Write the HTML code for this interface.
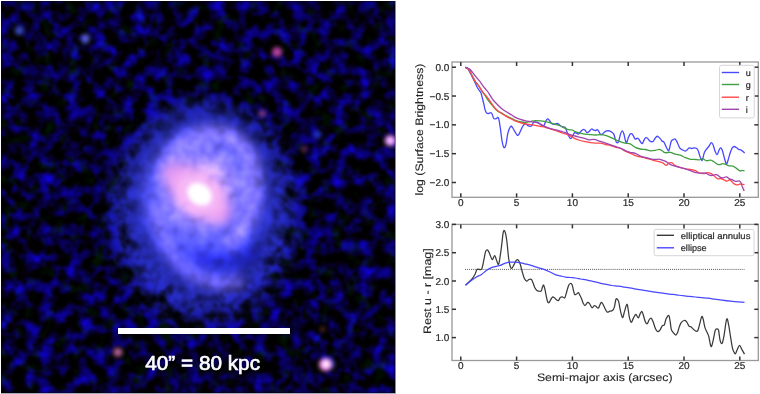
<!DOCTYPE html>
<html><head><meta charset="utf-8"><style>
html,body{margin:0;padding:0;background:#fff;width:760px;height:394px;overflow:hidden;}
body{position:relative;font-family:"Liberation Sans", sans-serif;}
#gal{position:absolute;left:1px;top:1px;width:394px;height:392px;overflow:hidden;background:#000;}
#plots{position:absolute;left:0;top:0;will-change:transform;text-rendering:geometricPrecision;}
.tl{font-family:"Liberation Sans", sans-serif;font-size:10px;fill:#2a2a2a;stroke:#2a2a2a;stroke-width:0.22px;}
.al{font-family:"Liberation Sans", sans-serif;font-size:10.8px;fill:#262626;stroke:#262626;stroke-width:0.12px;}
.lg{font-family:"Liberation Sans", sans-serif;font-size:9px;fill:#2a2a2a;stroke:#2a2a2a;stroke-width:0.22px;}
</style></head><body>
<div id="gal"><svg width="394" height="392" viewBox="1 1 394 392" style="display:block">
<defs>
<filter id="noise" x="1" y="1" width="394" height="392" filterUnits="userSpaceOnUse" color-interpolation-filters="sRGB">
  <feTurbulence type="fractalNoise" baseFrequency="0.075" numOctaves="3" seed="7" result="t"/>
  <feColorMatrix in="t" type="matrix" values="0.1 0 0 0 -0.03  0 0.3 0 0 -0.17  1.9 0 0 0 -0.79  0 0 0 0 1"/>
  <feGaussianBlur stdDeviation="0.9"/>
</filter>
<filter id="mottle" filterUnits="userSpaceOnUse" x="1" y="1" width="394" height="392" color-interpolation-filters="sRGB">
  <feGaussianBlur in="SourceGraphic" stdDeviation="5.5" result="s"/>
  <feTurbulence type="fractalNoise" baseFrequency="0.08" numOctaves="2" seed="4" result="t"/>
  <feColorMatrix in="t" type="matrix" values="1 0 0 0 0  1 0 0 0 0  1 0 0 0 0  0 0 0 0 1" result="n0"/>
  <feGaussianBlur in="n0" stdDeviation="1.2" result="n"/>
  <feComposite in="s" in2="n" operator="arithmetic" k1="0.75" k2="0.72" k3="0" k4="0"/>
</filter>
<filter id="mottleH" filterUnits="userSpaceOnUse" x="1" y="1" width="394" height="392" color-interpolation-filters="sRGB">
  <feGaussianBlur in="SourceGraphic" stdDeviation="3" result="s"/>
  <feTurbulence type="fractalNoise" baseFrequency="0.075" numOctaves="3" seed="7" result="t"/>
  <feColorMatrix in="t" type="matrix" values="0 0 0 0 0  0 0 0 0 0  0 0 0 0 0  2.6 0 0 0 -0.65" result="m0"/>
  <feGaussianBlur in="m0" stdDeviation="0.9" result="m"/>
  <feComposite in="s" in2="m" operator="in"/>
</filter>
<filter id="b3" x="-60%" y="-60%" width="220%" height="220%" color-interpolation-filters="sRGB"><feGaussianBlur stdDeviation="3"/></filter>
<filter id="b2" color-interpolation-filters="sRGB"><feGaussianBlur stdDeviation="2"/></filter>
<filter id="b4" x="-60%" y="-60%" width="220%" height="220%" color-interpolation-filters="sRGB"><feGaussianBlur stdDeviation="4"/></filter>
<filter id="b6" x="-60%" y="-60%" width="220%" height="220%" color-interpolation-filters="sRGB"><feGaussianBlur stdDeviation="6"/></filter>
<filter id="b10" x="-60%" y="-60%" width="220%" height="220%" color-interpolation-filters="sRGB"><feGaussianBlur stdDeviation="10"/></filter>
<filter id="b15" x="-60%" y="-60%" width="220%" height="220%" color-interpolation-filters="sRGB"><feGaussianBlur stdDeviation="15"/></filter>
<radialGradient id="gHalo" cx="0.5" cy="0.5" r="0.5">
  <stop offset="0" stop-color="#5a60ff" stop-opacity="1"/>
  <stop offset="0.45" stop-color="#4a54ff" stop-opacity="1"/>
  <stop offset="0.72" stop-color="#3a44ff" stop-opacity="0.7"/>
  <stop offset="0.88" stop-color="#2a34e0" stop-opacity="0.3"/>
  <stop offset="1" stop-color="#1820c0" stop-opacity="0"/>
</radialGradient>
<radialGradient id="gMid" cx="0.5" cy="0.5" r="0.5">
  <stop offset="0" stop-color="#4a50ff" stop-opacity="1"/>
  <stop offset="0.6" stop-color="#3c46ff" stop-opacity="0.92"/>
  <stop offset="0.85" stop-color="#3038f0" stop-opacity="0.45"/>
  <stop offset="1" stop-color="#2028d8" stop-opacity="0"/>
</radialGradient>
<radialGradient id="gDisk" cx="0.5" cy="0.5" r="0.5">
  <stop offset="0" stop-color="#9080ff" stop-opacity="1"/>
  <stop offset="0.5" stop-color="#5c5cff" stop-opacity="0.85"/>
  <stop offset="1" stop-color="#4a50ff" stop-opacity="0"/>
</radialGradient>
<radialGradient id="gInner" cx="0.5" cy="0.5" r="0.5">
  <stop offset="0" stop-color="#f0b0ff" stop-opacity="1"/>
  <stop offset="0.3" stop-color="#c49cff" stop-opacity="0.95"/>
  <stop offset="0.6" stop-color="#9484ff" stop-opacity="0.5"/>
  <stop offset="1" stop-color="#7068ff" stop-opacity="0"/>
</radialGradient>
<radialGradient id="halo" cx="0.5" cy="0.5" r="0.5">
  <stop offset="0" stop-color="#5a50ff" stop-opacity="0.9"/>
  <stop offset="0.55" stop-color="#3030e0" stop-opacity="0.6"/>
  <stop offset="1" stop-color="#1010a0" stop-opacity="0"/>
</radialGradient>
<radialGradient id="disk" cx="0.5" cy="0.5" r="0.5">
  <stop offset="0" stop-color="#f0b0f0" stop-opacity="1"/>
  <stop offset="0.4" stop-color="#c890f0" stop-opacity="0.9"/>
  <stop offset="1" stop-color="#7060ff" stop-opacity="0"/>
</radialGradient>
<radialGradient id="core" cx="0.5" cy="0.5" r="0.5">
  <stop offset="0" stop-color="#ffffff" stop-opacity="1"/>
  <stop offset="0.35" stop-color="#fff4ff" stop-opacity="1"/>
  <stop offset="0.7" stop-color="#ffc8f4" stop-opacity="0.6"/>
  <stop offset="1" stop-color="#f0a0f0" stop-opacity="0"/>
</radialGradient>
<radialGradient id="star" cx="0.5" cy="0.5" r="0.5">
  <stop offset="0" stop-color="#fff0f8"/>
  <stop offset="0.5" stop-color="#ff90c0" stop-opacity="0.8"/>
  <stop offset="1" stop-color="#c04080" stop-opacity="0"/>
</radialGradient>
<radialGradient id="rstar" cx="0.5" cy="0.5" r="0.5">
  <stop offset="0" stop-color="#e05070"/>
  <stop offset="1" stop-color="#a03050" stop-opacity="0"/>
</radialGradient>
</defs>
<rect x="1" y="1" width="394" height="392" fill="#000"/>
<rect x="1" y="1" width="394" height="392" filter="url(#noise)"/>
<!-- halo -->
<g filter="url(#mottleH)">
<ellipse cx="204" cy="212" rx="108" ry="128" fill="url(#gHalo)"/>
</g>
<g filter="url(#mottle)">
<ellipse cx="204" cy="204" rx="86" ry="106" fill="url(#gMid)"/>
<ellipse cx="203" cy="188" rx="58" ry="64" fill="url(#gDisk)"/>
<g fill="none" stroke-linecap="round">
  <path d="M166,178 C164,150 190,133 217,133 C242,136 254,157 255,183 C256,208 249,228 230,243" stroke="#8878ff" stroke-width="14" stroke-opacity="0.95"/>
  <path d="M155,208 C158,240 176,268 204,279 C218,284 230,284 238,282" stroke="#8070ff" stroke-width="12" stroke-opacity="0.8"/>
</g>
<ellipse cx="201" cy="190" rx="66" ry="70" transform="rotate(35 201 190)" fill="url(#gInner)"/>
<path d="M194,256 C213,264 238,264 258,250" stroke="#1010a0" stroke-width="11" fill="none" opacity="0.65"/>
</g>
<!-- pink -->
<ellipse cx="197" cy="193" rx="42" ry="18" transform="rotate(40 197 193)" fill="#f4a0f0" opacity="0.85" filter="url(#b6)"/>
<ellipse cx="199" cy="194" rx="24" ry="18" transform="rotate(40 199 194)" fill="#f8c0f8" opacity="0.8" filter="url(#b4)"/>
<!-- core -->
<ellipse cx="199.5" cy="194.2" rx="13" ry="10.5" transform="rotate(35 199.5 194.2)" fill="#fff" filter="url(#b2)"/>
<!-- stars -->
<g filter="url(#b2)">
<circle cx="329" cy="364" r="6" fill="#4060ff" opacity="0.6"/>
<circle cx="325.6" cy="364.5" r="6.5" fill="#ff90f4"/>
<circle cx="326" cy="364" r="3.5" fill="#fff0ff"/>
<circle cx="390.2" cy="140.6" r="5.5" fill="#e890ff"/>
<circle cx="390.5" cy="140.4" r="2.5" fill="#ffd8ff"/>
<circle cx="277.1" cy="52.1" r="5" fill="#c84aa8" opacity="0.9"/>
<circle cx="262.3" cy="113.4" r="3.5" fill="#b05060" opacity="0.7"/>
<circle cx="117.8" cy="352.3" r="4.5" fill="#d070b0" opacity="0.85"/>
<circle cx="304.2" cy="149.1" r="3" fill="#a04060" opacity="0.6"/>
<circle cx="317.2" cy="134.5" r="4" fill="#3050ff" opacity="0.6"/>
<circle cx="322.5" cy="329.2" r="2.5" fill="#a05040" opacity="0.6"/>
<circle cx="19.3" cy="30.5" r="4.5" fill="#4a60ff" opacity="0.75"/>
<circle cx="85.4" cy="38.6" r="4.5" fill="#6a70ff" opacity="0.8"/>
</g>
<!-- scale bar -->
<rect x="118" y="328" width="172" height="6" fill="#fff"/>
<text x="145.3" y="370" font-family="Liberation Sans, sans-serif" font-size="19.5" fill="#fff" stroke="#fff" stroke-width="0.6" textLength="114.7" lengthAdjust="spacingAndGlyphs">40” = 80 kpc</text>
</svg>
</div>
<svg id="plots" width="760" height="394" viewBox="0 0 760 394">
<rect x="395" y="1" width="1" height="392" fill="#000" fill-opacity="0.45"/>
<rect x="1" y="393" width="395" height="1" fill="#a8a8bc"/>
<rect x="452" y="62" width="306.29999999999995" height="135.3" fill="none" stroke="#999" stroke-width="1.3"/>
<line x1="452" y1="67.2" x2="456" y2="67.2" stroke="#333" stroke-width="1.5"/><line x1="758.3" y1="67.2" x2="754.3" y2="67.2" stroke="#333" stroke-width="1.5"/><line x1="452" y1="96.025" x2="456" y2="96.025" stroke="#333" stroke-width="1.5"/><line x1="758.3" y1="96.025" x2="754.3" y2="96.025" stroke="#333" stroke-width="1.5"/><line x1="452" y1="124.85" x2="456" y2="124.85" stroke="#333" stroke-width="1.5"/><line x1="758.3" y1="124.85" x2="754.3" y2="124.85" stroke="#333" stroke-width="1.5"/><line x1="452" y1="153.675" x2="456" y2="153.675" stroke="#333" stroke-width="1.5"/><line x1="758.3" y1="153.675" x2="754.3" y2="153.675" stroke="#333" stroke-width="1.5"/><line x1="452" y1="182.5" x2="456" y2="182.5" stroke="#333" stroke-width="1.5"/><line x1="758.3" y1="182.5" x2="754.3" y2="182.5" stroke="#333" stroke-width="1.5"/><line x1="460.8" y1="197.3" x2="460.8" y2="193.3" stroke="#333" stroke-width="1.5"/><line x1="460.8" y1="62" x2="460.8" y2="66" stroke="#333" stroke-width="1.5"/><line x1="516.6" y1="197.3" x2="516.6" y2="193.3" stroke="#333" stroke-width="1.5"/><line x1="516.6" y1="62" x2="516.6" y2="66" stroke="#333" stroke-width="1.5"/><line x1="572.4" y1="197.3" x2="572.4" y2="193.3" stroke="#333" stroke-width="1.5"/><line x1="572.4" y1="62" x2="572.4" y2="66" stroke="#333" stroke-width="1.5"/><line x1="628.2" y1="197.3" x2="628.2" y2="193.3" stroke="#333" stroke-width="1.5"/><line x1="628.2" y1="62" x2="628.2" y2="66" stroke="#333" stroke-width="1.5"/><line x1="684.0" y1="197.3" x2="684.0" y2="193.3" stroke="#333" stroke-width="1.5"/><line x1="684.0" y1="62" x2="684.0" y2="66" stroke="#333" stroke-width="1.5"/><line x1="739.8" y1="197.3" x2="739.8" y2="193.3" stroke="#333" stroke-width="1.5"/><line x1="739.8" y1="62" x2="739.8" y2="66" stroke="#333" stroke-width="1.5"/>

<rect x="452" y="224.4" width="306.29999999999995" height="136.1" fill="none" stroke="#999" stroke-width="1.3"/>
<line x1="452" y1="224.4" x2="456" y2="224.4" stroke="#333" stroke-width="1.5"/><line x1="758.3" y1="224.4" x2="754.3" y2="224.4" stroke="#333" stroke-width="1.5"/><line x1="452" y1="252.70000000000002" x2="456" y2="252.70000000000002" stroke="#333" stroke-width="1.5"/><line x1="758.3" y1="252.70000000000002" x2="754.3" y2="252.70000000000002" stroke="#333" stroke-width="1.5"/><line x1="452" y1="281.0" x2="456" y2="281.0" stroke="#333" stroke-width="1.5"/><line x1="758.3" y1="281.0" x2="754.3" y2="281.0" stroke="#333" stroke-width="1.5"/><line x1="452" y1="309.3" x2="456" y2="309.3" stroke="#333" stroke-width="1.5"/><line x1="758.3" y1="309.3" x2="754.3" y2="309.3" stroke="#333" stroke-width="1.5"/><line x1="452" y1="337.6" x2="456" y2="337.6" stroke="#333" stroke-width="1.5"/><line x1="758.3" y1="337.6" x2="754.3" y2="337.6" stroke="#333" stroke-width="1.5"/><line x1="460.8" y1="360.5" x2="460.8" y2="356.5" stroke="#333" stroke-width="1.5"/><line x1="460.8" y1="224.4" x2="460.8" y2="228.4" stroke="#333" stroke-width="1.5"/><line x1="516.6" y1="360.5" x2="516.6" y2="356.5" stroke="#333" stroke-width="1.5"/><line x1="516.6" y1="224.4" x2="516.6" y2="228.4" stroke="#333" stroke-width="1.5"/><line x1="572.4" y1="360.5" x2="572.4" y2="356.5" stroke="#333" stroke-width="1.5"/><line x1="572.4" y1="224.4" x2="572.4" y2="228.4" stroke="#333" stroke-width="1.5"/><line x1="628.2" y1="360.5" x2="628.2" y2="356.5" stroke="#333" stroke-width="1.5"/><line x1="628.2" y1="224.4" x2="628.2" y2="228.4" stroke="#333" stroke-width="1.5"/><line x1="684.0" y1="360.5" x2="684.0" y2="356.5" stroke="#333" stroke-width="1.5"/><line x1="684.0" y1="224.4" x2="684.0" y2="228.4" stroke="#333" stroke-width="1.5"/><line x1="739.8" y1="360.5" x2="739.8" y2="356.5" stroke="#333" stroke-width="1.5"/><line x1="739.8" y1="224.4" x2="739.8" y2="228.4" stroke="#333" stroke-width="1.5"/>

<text x="449.3" y="70.8" text-anchor="end" class="tl">0.0</text>
<text x="449.3" y="99.6" text-anchor="end" class="tl">−0.5</text>
<text x="449.3" y="128.4" text-anchor="end" class="tl">−1.0</text>
<text x="449.3" y="157.3" text-anchor="end" class="tl">−1.5</text>
<text x="449.3" y="186.1" text-anchor="end" class="tl">−2.0</text>
<text x="449.3" y="228.0" text-anchor="end" class="tl">3.0</text>
<text x="449.3" y="256.3" text-anchor="end" class="tl">2.5</text>
<text x="449.3" y="284.6" text-anchor="end" class="tl">2.0</text>
<text x="449.3" y="312.9" text-anchor="end" class="tl">1.5</text>
<text x="449.3" y="341.2" text-anchor="end" class="tl">1.0</text>
<text x="460.8" y="206.2" text-anchor="middle" class="tl">0</text>
<text x="460.8" y="368.9" text-anchor="middle" class="tl">0</text>
<text x="516.6" y="206.2" text-anchor="middle" class="tl">5</text>
<text x="516.6" y="368.9" text-anchor="middle" class="tl">5</text>
<text x="572.4" y="206.2" text-anchor="middle" class="tl">10</text>
<text x="572.4" y="368.9" text-anchor="middle" class="tl">10</text>
<text x="628.2" y="206.2" text-anchor="middle" class="tl">15</text>
<text x="628.2" y="368.9" text-anchor="middle" class="tl">15</text>
<text x="684.0" y="206.2" text-anchor="middle" class="tl">20</text>
<text x="684.0" y="368.9" text-anchor="middle" class="tl">20</text>
<text x="739.8" y="206.2" text-anchor="middle" class="tl">25</text>
<text x="739.8" y="368.9" text-anchor="middle" class="tl">25</text>
<text x="536.9" y="380.9" class="al" textLength="135.6" lengthAdjust="spacingAndGlyphs">Semi-major axis (arcsec)</text>
<text transform="translate(422.7,195.5) rotate(-90)" class="al" textLength="131.9" lengthAdjust="spacingAndGlyphs">log (Surface Brightness)</text>
<text transform="translate(431,333.9) rotate(-90)" class="al" textLength="85.6" lengthAdjust="spacingAndGlyphs">Rest u - r [mag]</text>
<path d="M465.30,67.40 C465.68,67.57 466.70,67.33 467.60,68.40 C468.50,69.47 469.82,72.17 470.70,73.80 C471.58,75.43 472.17,76.72 472.90,78.20 C473.63,79.68 474.37,81.15 475.10,82.70 C475.83,84.25 476.57,86.18 477.30,87.50 C478.03,88.82 478.87,89.65 479.50,90.60 C480.13,91.55 480.65,92.05 481.10,93.20 C481.55,94.35 481.70,95.52 482.20,97.50 C482.70,99.48 483.67,103.20 484.10,105.10 C484.53,107.00 484.43,107.63 484.80,108.90 C485.17,110.17 485.73,111.90 486.30,112.70 C486.87,113.50 487.45,113.70 488.20,113.70 C488.95,113.70 490.15,112.65 490.80,112.70 C491.45,112.75 491.62,113.05 492.10,114.00 C492.58,114.95 493.07,117.60 493.70,118.40 C494.33,119.20 495.12,118.90 495.90,118.80 C496.68,118.70 497.67,116.28 498.40,117.80 C499.13,119.32 499.67,123.88 500.30,127.90 C500.93,131.92 501.57,138.62 502.20,141.90 C502.83,145.18 503.47,147.18 504.10,147.60 C504.73,148.02 505.37,146.83 506.00,144.40 C506.63,141.97 507.15,135.97 507.90,133.00 C508.65,130.03 509.75,127.55 510.50,126.60 C511.25,125.65 511.67,126.45 512.40,127.30 C513.13,128.15 514.07,130.37 514.90,131.70 C515.73,133.03 516.67,134.98 517.40,135.30 C518.13,135.62 518.55,134.83 519.30,133.60 C520.05,132.37 521.15,129.38 521.90,127.90 C522.65,126.42 523.07,125.33 523.80,124.70 C524.53,124.07 525.68,123.98 526.30,124.10 C526.92,124.22 526.87,125.02 527.50,125.40 C528.13,125.78 529.35,126.40 530.10,126.40 C530.85,126.40 531.42,126.10 532.00,125.40 C532.58,124.70 532.87,122.73 533.60,122.20 C534.33,121.67 535.40,121.98 536.40,122.20 C537.40,122.42 538.65,122.87 539.60,123.50 C540.55,124.13 541.37,125.68 542.10,126.00 C542.83,126.32 543.37,126.25 544.00,125.40 C544.63,124.55 545.30,122.00 545.90,120.90 C546.50,119.80 547.07,118.95 547.60,118.80 C548.13,118.65 548.43,119.22 549.10,120.00 C549.77,120.78 550.75,122.77 551.60,123.50 C552.45,124.23 553.23,124.40 554.20,124.40 C555.17,124.40 556.55,123.45 557.40,123.50 C558.25,123.55 558.57,124.18 559.30,124.70 C560.03,125.22 560.85,126.17 561.80,126.60 C562.75,127.03 564.15,126.45 565.00,127.30 C565.85,128.15 566.27,130.22 566.90,131.70 C567.53,133.18 568.17,135.03 568.80,136.20 C569.43,137.37 570.07,138.70 570.70,138.70 C571.33,138.70 571.98,137.18 572.60,136.20 C573.22,135.22 573.78,133.32 574.40,132.80 C575.02,132.28 575.67,132.88 576.30,133.10 C576.93,133.32 577.55,134.25 578.20,134.10 C578.85,133.95 579.45,132.93 580.20,132.20 C580.95,131.47 581.97,130.12 582.70,129.70 C583.43,129.28 583.87,129.22 584.60,129.70 C585.33,130.18 586.37,132.28 587.10,132.60 C587.83,132.92 588.25,132.20 589.00,131.60 C589.75,131.00 590.85,129.27 591.60,129.00 C592.35,128.73 592.87,129.73 593.50,130.00 C594.13,130.27 594.77,130.65 595.40,130.60 C596.03,130.55 596.72,129.53 597.30,129.70 C597.88,129.87 598.37,130.82 598.90,131.60 C599.43,132.38 599.92,133.98 600.50,134.40 C601.08,134.82 601.77,134.47 602.40,134.10 C603.03,133.73 603.57,132.73 604.30,132.20 C605.03,131.67 605.97,131.12 606.80,130.90 C607.63,130.68 608.45,130.68 609.30,130.90 C610.15,131.12 611.15,131.67 611.90,132.20 C612.65,132.73 613.27,133.03 613.80,134.10 C614.33,135.17 614.65,137.23 615.10,138.60 C615.55,139.97 615.98,141.68 616.50,142.30 C617.02,142.92 617.72,142.93 618.20,142.30 C618.68,141.67 618.98,139.98 619.40,138.50 C619.82,137.02 620.20,134.67 620.70,133.40 C621.20,132.13 621.87,130.80 622.40,130.90 C622.93,131.00 623.40,132.42 623.90,134.00 C624.40,135.58 624.93,138.95 625.40,140.40 C625.87,141.85 626.22,143.13 626.70,142.70 C627.18,142.27 627.72,139.25 628.30,137.80 C628.88,136.35 629.62,134.67 630.20,134.00 C630.78,133.33 631.27,133.48 631.80,133.80 C632.33,134.12 632.82,135.02 633.40,135.90 C633.98,136.78 634.60,138.72 635.30,139.10 C636.00,139.48 636.97,138.10 637.60,138.20 C638.23,138.30 638.57,139.02 639.10,139.70 C639.63,140.38 640.27,141.65 640.80,142.30 C641.33,142.95 641.78,143.92 642.30,143.60 C642.82,143.28 643.37,141.37 643.90,140.40 C644.43,139.43 644.92,138.17 645.50,137.80 C646.08,137.43 646.77,137.77 647.40,138.20 C648.03,138.63 648.67,139.83 649.30,140.40 C649.93,140.97 650.57,141.43 651.20,141.60 C651.83,141.77 652.47,141.92 653.10,141.40 C653.73,140.88 654.37,139.35 655.00,138.50 C655.63,137.65 656.27,136.52 656.90,136.30 C657.53,136.08 658.17,136.72 658.80,137.20 C659.43,137.68 660.07,138.47 660.70,139.20 C661.33,139.93 662.08,141.17 662.60,141.60 C663.12,142.03 663.28,141.08 663.80,141.80 C664.32,142.52 665.07,144.58 665.70,145.90 C666.33,147.22 667.07,148.95 667.60,149.70 C668.13,150.45 668.47,151.13 668.90,150.40 C669.33,149.67 669.78,146.88 670.20,145.30 C670.62,143.72 670.88,141.85 671.40,140.90 C671.92,139.95 672.67,139.92 673.30,139.60 C673.93,139.28 674.57,138.58 675.20,139.00 C675.83,139.42 676.35,140.63 677.10,142.10 C677.85,143.57 678.85,146.53 679.70,147.80 C680.55,149.07 681.25,149.17 682.20,149.70 C683.15,150.23 684.55,151.00 685.40,151.00 C686.25,151.00 686.67,150.23 687.30,149.70 C687.93,149.17 688.47,148.00 689.20,147.80 C689.93,147.60 690.75,148.50 691.70,148.50 C692.65,148.50 693.95,147.70 694.90,147.80 C695.85,147.90 696.77,148.35 697.40,149.10 C698.03,149.85 698.27,151.07 698.70,152.30 C699.13,153.53 699.58,155.33 700.00,156.50 C700.42,157.67 700.85,158.63 701.20,159.30 C701.55,159.97 701.78,160.82 702.10,160.50 C702.42,160.18 702.72,158.73 703.10,157.40 C703.48,156.07 703.82,153.90 704.40,152.50 C704.98,151.10 705.87,150.00 706.60,149.00 C707.33,148.00 708.02,147.55 708.80,146.50 C709.58,145.45 710.57,142.92 711.30,142.70 C712.03,142.48 712.55,143.72 713.20,145.20 C713.85,146.68 714.55,150.02 715.20,151.60 C715.85,153.18 716.47,154.92 717.10,154.70 C717.73,154.48 718.43,151.45 719.00,150.30 C719.57,149.15 719.98,147.90 720.50,147.80 C721.02,147.70 721.52,148.23 722.10,149.70 C722.68,151.17 723.37,154.35 724.00,156.60 C724.63,158.85 725.43,161.97 725.90,163.20 C726.37,164.43 726.37,164.77 726.80,164.00 C727.23,163.23 727.90,160.57 728.50,158.60 C729.10,156.63 729.77,154.00 730.40,152.20 C731.03,150.40 731.67,148.75 732.30,147.80 C732.93,146.85 733.47,146.50 734.20,146.50 C734.93,146.50 735.97,147.33 736.70,147.80 C737.43,148.27 737.85,148.92 738.60,149.30 C739.35,149.68 740.45,149.72 741.20,150.10 C741.95,150.48 742.53,151.10 743.10,151.60 C743.67,152.10 744.35,152.85 744.60,153.10" fill="none" stroke="#4848ff" stroke-width="1.3" stroke-linejoin="round"/>
<path d="M465.30,67.40 C465.68,67.57 466.78,67.63 467.60,68.40 C468.42,69.17 469.32,70.52 470.20,72.00 C471.08,73.48 472.02,75.67 472.90,77.30 C473.78,78.93 474.53,80.38 475.50,81.80 C476.47,83.22 477.65,84.30 478.70,85.80 C479.75,87.30 480.77,89.23 481.80,90.80 C482.83,92.37 483.87,93.65 484.90,95.20 C485.93,96.75 486.80,98.43 488.00,100.10 C489.20,101.77 490.58,103.42 492.10,105.20 C493.62,106.98 495.58,109.53 497.10,110.80 C498.62,112.07 499.67,111.95 501.20,112.80 C502.73,113.65 504.60,114.97 506.30,115.90 C508.00,116.83 509.88,117.65 511.40,118.40 C512.92,119.15 513.72,119.80 515.40,120.40 C517.08,121.00 519.73,121.68 521.50,122.00 C523.27,122.32 524.57,122.37 526.00,122.30 C527.43,122.23 528.57,121.88 530.10,121.60 C531.63,121.32 533.52,120.72 535.20,120.60 C536.88,120.48 538.52,120.73 540.20,120.90 C541.88,121.07 543.60,121.28 545.30,121.60 C547.00,121.92 548.70,122.33 550.40,122.80 C552.10,123.27 553.82,123.87 555.50,124.40 C557.18,124.93 558.82,125.30 560.50,126.00 C562.18,126.70 564.12,127.97 565.60,128.60 C567.08,129.23 568.25,129.57 569.40,129.80 C570.55,130.03 571.55,129.70 572.50,130.00 C573.45,130.30 573.82,131.07 575.10,131.60 C576.38,132.13 578.52,132.78 580.20,133.20 C581.88,133.62 583.52,133.85 585.20,134.10 C586.88,134.35 588.60,134.55 590.30,134.70 C592.00,134.85 593.70,135.00 595.40,135.00 C597.10,135.00 598.82,134.63 600.50,134.70 C602.18,134.77 603.82,134.97 605.50,135.40 C607.18,135.83 608.90,136.57 610.60,137.30 C612.30,138.03 614.12,139.08 615.70,139.80 C617.28,140.52 618.52,141.03 620.10,141.60 C621.68,142.17 623.52,142.82 625.20,143.20 C626.88,143.58 628.52,143.20 630.20,143.90 C631.88,144.60 633.60,146.55 635.30,147.40 C637.00,148.25 638.70,148.65 640.40,149.00 C642.10,149.35 643.82,149.20 645.50,149.50 C647.18,149.80 648.82,150.67 650.50,150.80 C652.18,150.93 654.12,150.55 655.60,150.30 C657.08,150.05 658.25,149.18 659.40,149.30 C660.55,149.42 661.55,150.43 662.50,151.00 C663.45,151.57 663.82,152.48 665.10,152.70 C666.38,152.92 668.52,152.05 670.20,152.30 C671.88,152.55 673.52,153.72 675.20,154.20 C676.88,154.68 678.60,154.62 680.30,155.20 C682.00,155.78 683.70,157.02 685.40,157.70 C687.10,158.38 688.82,159.00 690.50,159.30 C692.18,159.60 694.03,159.40 695.50,159.50 C696.97,159.60 698.13,160.05 699.30,159.90 C700.47,159.75 701.43,158.50 702.50,158.60 C703.57,158.70 704.87,160.15 705.70,160.50 C706.53,160.85 706.67,160.75 707.50,160.70 C708.33,160.65 709.63,160.03 710.70,160.20 C711.77,160.37 712.73,161.02 713.90,161.70 C715.07,162.38 716.65,163.83 717.70,164.30 C718.75,164.77 719.35,164.62 720.20,164.50 C721.05,164.38 721.85,163.60 722.80,163.60 C723.75,163.60 724.85,164.13 725.90,164.50 C726.95,164.87 727.93,165.52 729.10,165.80 C730.27,166.08 731.73,165.82 732.90,166.20 C734.07,166.58 734.93,167.32 736.10,168.10 C737.27,168.88 738.85,170.52 739.90,170.90 C740.95,171.28 741.62,170.40 742.40,170.40 C743.18,170.40 744.23,170.82 744.60,170.90" fill="none" stroke="#3f9f3f" stroke-width="1.3" stroke-linejoin="round"/>
<path d="M465.30,67.40 C465.68,67.57 466.78,67.63 467.60,68.40 C468.42,69.17 469.32,70.52 470.20,72.00 C471.08,73.48 472.02,75.67 472.90,77.30 C473.78,78.93 474.53,80.38 475.50,81.80 C476.47,83.22 477.65,84.33 478.70,85.80 C479.75,87.27 480.77,89.13 481.80,90.60 C482.83,92.07 483.87,93.35 484.90,94.60 C485.93,95.85 486.80,96.50 488.00,98.10 C489.20,99.70 490.75,102.33 492.10,104.20 C493.45,106.07 494.58,107.78 496.10,109.30 C497.62,110.82 499.50,112.12 501.20,113.30 C502.90,114.48 504.60,115.47 506.30,116.40 C508.00,117.33 509.72,118.07 511.40,118.90 C513.08,119.73 514.72,120.72 516.40,121.40 C518.08,122.08 519.90,122.57 521.50,123.00 C523.10,123.43 524.57,123.73 526.00,124.00 C527.43,124.27 528.57,124.37 530.10,124.60 C531.63,124.83 533.52,125.10 535.20,125.40 C536.88,125.70 538.52,126.08 540.20,126.40 C541.88,126.72 543.60,126.88 545.30,127.30 C547.00,127.72 548.70,128.37 550.40,128.90 C552.10,129.43 553.82,129.92 555.50,130.50 C557.18,131.08 558.82,131.82 560.50,132.40 C562.18,132.98 563.90,133.37 565.60,134.00 C567.30,134.63 569.12,135.43 570.70,136.20 C572.28,136.97 573.52,137.88 575.10,138.60 C576.68,139.32 578.52,139.98 580.20,140.50 C581.88,141.02 583.52,141.33 585.20,141.70 C586.88,142.07 588.60,142.45 590.30,142.70 C592.00,142.95 593.70,143.12 595.40,143.20 C597.10,143.28 598.82,142.98 600.50,143.20 C602.18,143.42 603.82,144.12 605.50,144.50 C607.18,144.88 608.90,145.02 610.60,145.50 C612.30,145.98 614.12,146.98 615.70,147.40 C617.28,147.82 618.52,147.37 620.10,148.00 C621.68,148.63 623.52,150.35 625.20,151.20 C626.88,152.05 628.52,152.37 630.20,153.10 C631.88,153.83 633.60,154.97 635.30,155.60 C637.00,156.23 638.70,156.48 640.40,156.90 C642.10,157.32 643.82,157.68 645.50,158.10 C647.18,158.52 648.82,158.93 650.50,159.40 C652.18,159.87 654.02,160.50 655.60,160.90 C657.18,161.30 658.73,161.43 660.00,161.80 C661.27,162.17 662.15,162.50 663.20,163.10 C664.25,163.70 665.35,165.40 666.30,165.40 C667.25,165.40 667.93,163.53 668.90,163.10 C669.87,162.67 671.05,162.38 672.10,162.80 C673.15,163.22 673.83,164.82 675.20,165.60 C676.57,166.38 678.60,166.97 680.30,167.50 C682.00,168.03 683.70,168.48 685.40,168.80 C687.10,169.12 688.82,169.08 690.50,169.40 C692.18,169.72 694.03,170.10 695.50,170.70 C696.97,171.30 697.82,172.53 699.30,173.00 C700.78,173.47 703.10,173.55 704.40,173.50 C705.70,173.45 705.97,172.67 707.10,172.70 C708.23,172.73 710.02,173.13 711.20,173.70 C712.38,174.27 713.10,175.25 714.20,176.10 C715.30,176.95 716.70,178.40 717.80,178.80 C718.90,179.20 719.78,178.33 720.80,178.50 C721.82,178.67 722.88,179.37 723.90,179.80 C724.92,180.23 725.88,181.10 726.90,181.10 C727.92,181.10 728.98,179.50 730.00,179.80 C731.02,180.10 731.90,182.05 733.00,182.90 C734.10,183.75 735.50,184.68 736.60,184.90 C737.70,185.12 738.67,184.32 739.60,184.20 C740.53,184.08 741.38,184.08 742.20,184.20 C743.02,184.32 744.12,184.78 744.50,184.90" fill="none" stroke="#ff4848" stroke-width="1.3" stroke-linejoin="round"/>
<path d="M465.30,67.40 C465.97,67.65 468.03,67.98 469.30,68.90 C470.57,69.82 471.72,71.50 472.90,72.90 C474.08,74.30 475.30,75.97 476.40,77.30 C477.50,78.63 478.47,79.57 479.50,80.90 C480.53,82.23 481.48,83.82 482.60,85.30 C483.72,86.78 485.30,88.68 486.20,89.80 C487.10,90.92 487.02,90.53 488.00,92.00 C488.98,93.47 490.75,96.73 492.10,98.60 C493.45,100.47 494.58,101.60 496.10,103.20 C497.62,104.80 499.50,106.77 501.20,108.20 C502.90,109.63 504.60,110.70 506.30,111.80 C508.00,112.90 509.88,113.87 511.40,114.80 C512.92,115.73 513.88,116.63 515.40,117.40 C516.92,118.17 518.80,118.82 520.50,119.40 C522.20,119.98 524.00,120.53 525.60,120.90 C527.20,121.27 528.50,121.38 530.10,121.60 C531.70,121.82 533.52,121.78 535.20,122.20 C536.88,122.62 538.52,123.37 540.20,124.10 C541.88,124.83 543.60,125.85 545.30,126.60 C547.00,127.35 548.70,128.07 550.40,128.60 C552.10,129.13 553.82,129.38 555.50,129.80 C557.18,130.22 558.82,130.62 560.50,131.10 C562.18,131.58 563.90,132.07 565.60,132.70 C567.30,133.33 569.12,134.35 570.70,134.90 C572.28,135.45 573.52,135.60 575.10,136.00 C576.68,136.40 578.52,136.87 580.20,137.30 C581.88,137.73 583.73,138.18 585.20,138.60 C586.67,139.02 587.52,139.67 589.00,139.80 C590.48,139.93 592.40,139.18 594.10,139.40 C595.80,139.62 597.50,140.55 599.20,141.10 C600.90,141.65 602.62,142.17 604.30,142.70 C605.98,143.23 607.62,143.72 609.30,144.30 C610.98,144.88 612.60,145.55 614.40,146.20 C616.20,146.85 618.30,147.48 620.10,148.20 C621.90,148.92 623.52,149.80 625.20,150.50 C626.88,151.20 628.52,151.93 630.20,152.40 C631.88,152.87 633.60,152.67 635.30,153.30 C637.00,153.93 638.70,155.50 640.40,156.20 C642.10,156.90 643.82,157.07 645.50,157.50 C647.18,157.93 648.82,158.48 650.50,158.80 C652.18,159.12 654.02,159.32 655.60,159.40 C657.18,159.48 658.42,159.00 660.00,159.30 C661.58,159.60 663.40,160.37 665.10,161.20 C666.80,162.03 668.52,163.47 670.20,164.30 C671.88,165.13 673.52,165.67 675.20,166.20 C676.88,166.73 678.60,167.07 680.30,167.50 C682.00,167.93 683.70,168.27 685.40,168.80 C687.10,169.33 688.82,170.07 690.50,170.70 C692.18,171.33 693.82,172.18 695.50,172.60 C697.18,173.02 698.90,173.10 700.60,173.20 C702.30,173.30 704.10,172.83 705.70,173.20 C707.30,173.57 708.95,175.07 710.20,175.40 C711.45,175.73 712.10,175.32 713.20,175.20 C714.30,175.08 715.62,174.35 716.80,174.70 C717.98,175.05 719.20,176.78 720.30,177.30 C721.40,177.82 722.38,177.88 723.40,177.80 C724.42,177.72 725.38,176.63 726.40,176.80 C727.42,176.97 728.48,178.30 729.50,178.80 C730.52,179.30 731.48,179.38 732.50,179.80 C733.52,180.22 734.50,181.13 735.60,181.30 C736.70,181.47 738.25,180.62 739.10,180.80 C739.95,180.98 740.18,181.47 740.70,182.40 C741.22,183.33 741.62,184.97 742.20,186.40 C742.78,187.83 743.87,190.23 744.20,191.00" fill="none" stroke="#a244ae" stroke-width="1.3" stroke-linejoin="round"/>
<line x1="465" y1="269.4" x2="744.5" y2="269.4" stroke="#555" stroke-width="1" stroke-dasharray="1 1.05"/>
<path d="M465.60,285.20 C466.60,284.25 470.05,281.28 471.60,279.50 C473.15,277.72 473.95,276.22 474.90,274.50 C475.85,272.78 476.20,270.08 477.30,269.20 C478.40,268.32 480.40,270.78 481.50,269.20 C482.60,267.62 483.22,262.67 483.90,259.70 C484.58,256.73 484.97,253.00 485.60,251.40 C486.23,249.80 487.02,249.68 487.70,250.10 C488.38,250.52 488.95,252.30 489.70,253.90 C490.45,255.50 491.37,259.43 492.20,259.70 C493.03,259.97 493.97,255.37 494.70,255.50 C495.43,255.63 495.92,259.12 496.60,260.50 C497.28,261.88 498.02,265.87 498.80,263.80 C499.58,261.73 500.55,253.37 501.30,248.10 C502.05,242.83 502.67,234.88 503.30,232.20 C503.93,229.52 504.50,230.45 505.10,232.00 C505.70,233.55 506.32,237.17 506.90,241.50 C507.48,245.83 508.05,253.87 508.60,258.00 C509.15,262.13 509.65,264.60 510.20,266.30 C510.75,268.00 511.27,268.48 511.90,268.20 C512.53,267.92 513.28,265.88 514.00,264.60 C514.72,263.32 515.50,261.27 516.20,260.50 C516.90,259.73 517.55,259.45 518.20,260.00 C518.85,260.55 519.42,261.80 520.10,263.80 C520.78,265.80 521.58,269.53 522.30,272.00 C523.02,274.47 523.67,277.08 524.40,278.60 C525.13,280.12 525.95,280.95 526.70,281.10 C527.45,281.25 528.12,279.77 528.90,279.50 C529.68,279.23 530.72,278.95 531.40,279.50 C532.08,280.05 532.40,281.38 533.00,282.80 C533.60,284.22 534.35,286.72 535.00,288.00 C535.65,289.28 536.27,289.98 536.90,290.50 C537.53,291.02 538.10,291.00 538.80,291.10 C539.50,291.20 540.50,291.73 541.10,291.10 C541.70,290.47 541.98,288.30 542.40,287.30 C542.82,286.30 543.18,284.78 543.60,285.10 C544.02,285.42 544.43,287.25 544.90,289.20 C545.37,291.15 545.93,294.68 546.40,296.80 C546.87,298.92 547.23,300.95 547.70,301.90 C548.17,302.85 548.67,302.93 549.20,302.50 C549.73,302.07 550.30,300.25 550.90,299.30 C551.50,298.35 552.17,297.00 552.80,296.80 C553.43,296.60 554.07,297.57 554.70,298.10 C555.33,298.63 555.97,299.62 556.60,300.00 C557.23,300.38 557.87,300.83 558.50,300.40 C559.13,299.97 559.77,298.00 560.40,297.40 C561.03,296.80 561.57,296.73 562.30,296.80 C563.03,296.87 564.07,298.65 564.80,297.80 C565.53,296.95 566.07,293.77 566.70,291.70 C567.33,289.63 568.00,286.77 568.60,285.40 C569.20,284.03 569.72,283.62 570.30,283.50 C570.88,283.38 571.60,283.65 572.10,284.70 C572.60,285.75 572.88,288.20 573.30,289.80 C573.72,291.40 574.12,293.55 574.60,294.30 C575.08,295.05 575.57,294.57 576.20,294.30 C576.83,294.03 577.77,292.50 578.40,292.70 C579.03,292.90 579.48,294.52 580.00,295.50 C580.52,296.48 580.97,297.32 581.50,298.60 C582.03,299.88 582.60,302.05 583.20,303.20 C583.80,304.35 584.37,305.63 585.10,305.50 C585.83,305.37 586.87,302.72 587.60,302.40 C588.33,302.08 588.75,302.70 589.50,303.60 C590.25,304.50 591.35,307.43 592.10,307.80 C592.85,308.17 593.37,306.07 594.00,305.80 C594.63,305.53 595.17,305.82 595.90,306.20 C596.63,306.58 597.57,308.68 598.40,308.10 C599.23,307.52 600.17,303.38 600.90,302.70 C601.63,302.02 602.05,302.90 602.80,304.00 C603.55,305.10 604.65,307.95 605.40,309.30 C606.15,310.65 606.57,311.78 607.30,312.10 C608.03,312.42 608.95,311.45 609.80,311.20 C610.65,310.95 611.65,311.23 612.40,310.60 C613.15,309.97 613.73,309.20 614.30,307.40 C614.87,305.60 615.33,301.22 615.80,299.80 C616.27,298.38 616.62,298.58 617.10,298.90 C617.58,299.22 618.15,299.75 618.70,301.70 C619.25,303.65 619.77,307.95 620.40,310.60 C621.03,313.25 621.83,317.38 622.50,317.60 C623.17,317.82 623.67,314.12 624.40,311.90 C625.13,309.68 626.27,304.67 626.90,304.30 C627.53,303.93 627.78,307.52 628.20,309.70 C628.62,311.88 628.88,315.28 629.40,317.40 C629.92,319.52 630.67,322.20 631.30,322.40 C631.93,322.60 632.45,319.93 633.20,318.60 C633.95,317.27 634.95,314.50 635.80,314.40 C636.65,314.30 637.57,318.13 638.30,318.00 C639.03,317.87 639.57,314.67 640.20,313.60 C640.83,312.53 641.50,311.08 642.10,311.60 C642.70,312.12 643.27,315.00 643.80,316.70 C644.33,318.40 644.73,320.63 645.30,321.80 C645.87,322.97 646.57,324.02 647.20,323.70 C647.83,323.38 648.47,320.82 649.10,319.90 C649.73,318.98 650.37,317.98 651.00,318.20 C651.63,318.42 652.15,319.43 652.90,321.20 C653.65,322.97 654.70,327.05 655.50,328.80 C656.30,330.55 656.97,331.48 657.70,331.70 C658.43,331.92 659.12,331.12 659.90,330.10 C660.68,329.08 661.67,326.45 662.40,325.60 C663.13,324.75 663.67,326.17 664.30,325.00 C664.93,323.83 665.45,320.18 666.20,318.60 C666.95,317.02 668.15,315.07 668.80,315.50 C669.45,315.93 669.68,318.90 670.10,321.20 C670.52,323.50 670.78,327.42 671.30,329.30 C671.82,331.18 672.47,331.55 673.20,332.50 C673.93,333.45 674.97,335.00 675.70,335.00 C676.43,335.00 676.97,333.97 677.60,332.50 C678.23,331.03 678.87,327.88 679.50,326.20 C680.13,324.52 680.65,323.35 681.40,322.40 C682.15,321.45 683.15,320.62 684.00,320.50 C684.85,320.38 685.67,320.75 686.50,321.70 C687.33,322.65 688.27,325.35 689.00,326.20 C689.73,327.05 690.15,326.28 690.90,326.80 C691.65,327.32 692.65,328.57 693.50,329.30 C694.35,330.03 695.27,331.02 696.00,331.20 C696.73,331.38 697.27,331.67 697.90,330.40 C698.53,329.13 699.17,325.90 699.80,323.60 C700.43,321.30 701.13,317.33 701.70,316.60 C702.27,315.87 702.67,317.40 703.20,319.20 C703.73,321.00 704.28,325.27 704.90,327.40 C705.52,329.53 706.25,330.47 706.90,332.00 C707.55,333.53 708.12,334.18 708.80,336.60 C709.48,339.02 710.30,345.73 711.00,346.50 C711.70,347.27 712.30,343.87 713.00,341.20 C713.70,338.53 714.52,332.53 715.20,330.50 C715.88,328.47 716.53,329.00 717.10,329.00 C717.67,329.00 718.10,328.60 718.60,330.50 C719.10,332.40 719.52,338.25 720.10,340.40 C720.68,342.55 721.43,344.28 722.10,343.40 C722.77,342.52 723.33,339.15 724.10,335.10 C724.87,331.05 725.93,320.75 726.70,319.10 C727.47,317.45 728.07,322.28 728.70,325.20 C729.33,328.12 729.90,332.92 730.50,336.60 C731.10,340.28 731.75,344.77 732.30,347.30 C732.85,349.83 733.28,350.73 733.80,351.80 C734.32,352.87 734.82,354.08 735.40,353.70 C735.98,353.32 736.60,350.88 737.30,349.50 C738.00,348.12 738.83,345.40 739.60,345.40 C740.37,345.40 741.08,348.05 741.90,349.50 C742.72,350.95 744.07,353.33 744.50,354.10" fill="none" stroke="#3a3a3a" stroke-width="1.25" stroke-linejoin="round"/>
<path d="M465.60,285.20 C466.60,284.38 469.78,281.67 471.60,280.30 C473.42,278.93 474.85,277.97 476.50,277.00 C478.15,276.03 479.85,275.60 481.50,274.50 C483.15,273.40 484.75,271.55 486.40,270.40 C488.05,269.25 489.75,268.28 491.40,267.60 C493.05,266.92 494.80,266.67 496.30,266.30 C497.80,265.93 499.02,265.90 500.40,265.40 C501.78,264.90 503.08,263.85 504.60,263.30 C506.12,262.75 507.78,262.30 509.50,262.10 C511.22,261.90 513.18,262.02 514.90,262.10 C516.62,262.18 518.15,262.32 519.80,262.60 C521.45,262.88 523.15,263.42 524.80,263.80 C526.45,264.18 528.05,264.43 529.70,264.90 C531.35,265.37 533.05,266.05 534.70,266.60 C536.35,267.15 537.95,267.70 539.60,268.20 C541.25,268.70 542.87,268.97 544.60,269.60 C546.33,270.23 548.22,271.17 550.00,272.00 C551.78,272.83 553.57,273.95 555.30,274.60 C557.03,275.25 558.70,275.48 560.40,275.90 C562.10,276.32 563.82,276.83 565.50,277.10 C567.18,277.37 568.82,277.35 570.50,277.50 C572.18,277.65 573.90,277.75 575.60,278.00 C577.30,278.25 578.92,278.68 580.70,279.00 C582.48,279.32 584.30,279.50 586.30,279.90 C588.30,280.30 590.58,280.90 592.70,281.40 C594.82,281.90 596.88,282.43 599.00,282.90 C601.12,283.37 603.28,283.77 605.40,284.20 C607.52,284.63 609.58,285.17 611.70,285.50 C613.82,285.83 615.98,285.93 618.10,286.20 C620.22,286.47 622.20,286.77 624.40,287.10 C626.60,287.43 629.08,287.82 631.30,288.20 C633.52,288.58 635.58,289.05 637.70,289.40 C639.82,289.75 641.88,289.98 644.00,290.30 C646.12,290.62 648.28,290.95 650.40,291.30 C652.52,291.65 654.58,292.08 656.70,292.40 C658.82,292.72 660.98,292.92 663.10,293.20 C665.22,293.48 667.20,293.83 669.40,294.10 C671.60,294.37 674.08,294.53 676.30,294.80 C678.52,295.07 680.58,295.45 682.70,295.70 C684.82,295.95 686.88,296.08 689.00,296.30 C691.12,296.52 693.28,296.78 695.40,297.00 C697.52,297.22 699.58,297.40 701.70,297.60 C703.82,297.80 705.98,297.95 708.10,298.20 C710.22,298.45 712.42,298.82 714.40,299.10 C716.38,299.38 717.32,299.55 720.00,299.90 C722.68,300.25 726.42,300.80 730.50,301.20 C734.58,301.60 742.17,302.12 744.50,302.30" fill="none" stroke="#4848ff" stroke-width="1.25" stroke-linejoin="round"/>
<rect x="719.5" y="65.3" width="34.7" height="52.6" rx="2" fill="#fff" fill-opacity="0.8" stroke="#d6d6d6" stroke-width="1"/>
<line x1="721.8" y1="72.5" x2="739.1" y2="72.5" stroke="#4848ff" stroke-width="1.4"/>
<text x="745.8" y="75.9" class="lg">u</text>
<line x1="721.8" y1="84.5" x2="739.1" y2="84.5" stroke="#3f9f3f" stroke-width="1.4"/>
<text x="745.8" y="87.9" class="lg">g</text>
<line x1="721.8" y1="97.2" x2="739.1" y2="97.2" stroke="#ff4848" stroke-width="1.4"/>
<text x="745.8" y="100.6" class="lg">r</text>
<line x1="721.8" y1="109.3" x2="739.1" y2="109.3" stroke="#a244ae" stroke-width="1.4"/>
<text x="745.8" y="112.7" class="lg">i</text>
<rect x="654.1" y="229.4" width="99.9" height="26.3" rx="2" fill="#fff" fill-opacity="0.8" stroke="#d6d6d6" stroke-width="1"/>
<line x1="656.8" y1="235.3" x2="674" y2="235.3" stroke="#3a3a3a" stroke-width="1.4"/>
<text x="680.8" y="238.6" class="lg" textLength="69.6" lengthAdjust="spacingAndGlyphs">elliptical annulus</text>
<line x1="656.8" y1="247.8" x2="674" y2="247.8" stroke="#4848ff" stroke-width="1.4"/>
<text x="680.8" y="251.1" class="lg" textLength="25.8" lengthAdjust="spacingAndGlyphs">ellipse</text>
</svg>
</body></html>
